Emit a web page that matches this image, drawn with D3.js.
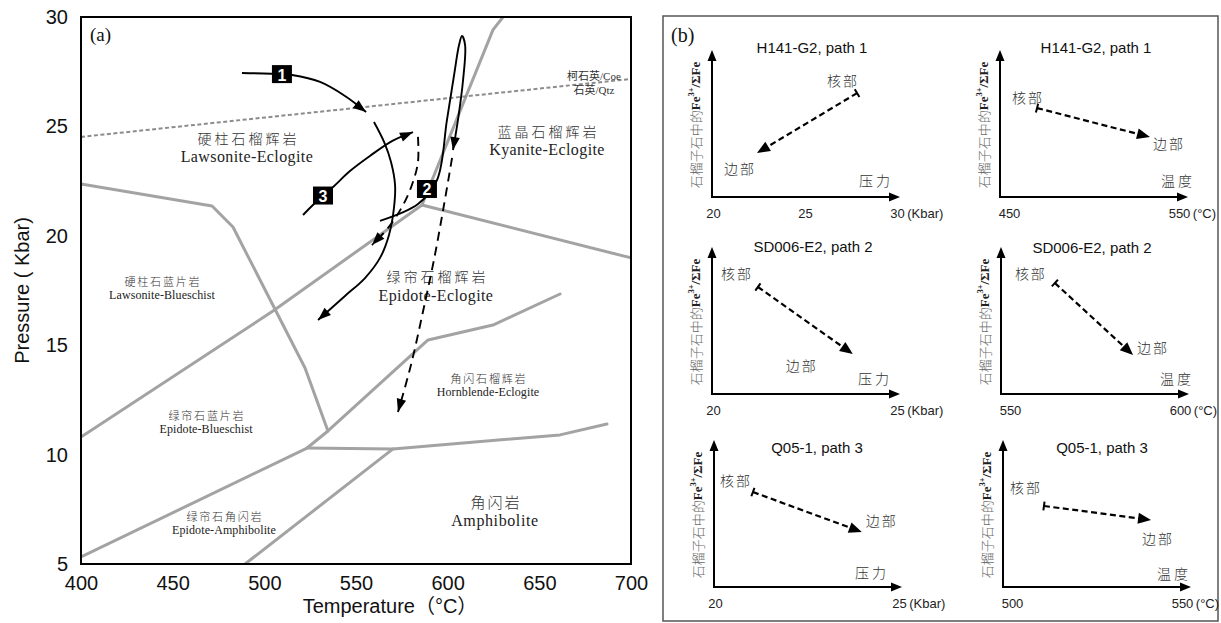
<!DOCTYPE html>
<html>
<head>
<meta charset="utf-8">
<script src="https://cdn.jsdelivr.net/npm/d3@7"></script>
<style>
  body { margin: 0; background: #fff; }
  svg { display: block; }
</style>
</head>
<body>
<script>
// ================= data =================
// panel (a): P-T grid, temperature in °C, pressure in kbar
const tempTicks = [400, 450, 500, 550, 600, 650, 700];
const pressureTicks = [5, 10, 15, 20, 25, 30];

// metamorphic facies boundaries, [T, P]
const lineLawsoniteOut   = [[400, 22.37], [471.5, 21.36], [482.9, 20.40], [522.2, 13.96], [534.7, 11.08]];
const lineEpidoteUpper   = [[400, 10.80], [504.7, 16.56], [586.0, 21.41]];
const lineKyanite        = [[586.0, 21.41], [624.7, 29.41], [630.2, 30.0]];
const lineKyaniteEpidote = [[586.0, 21.41], [700, 18.99]];
const lineHornblendeTop  = [[400, 5.32], [523.3, 10.30], [534.7, 11.08], [589.3, 15.24], [624.7, 15.92], [661.3, 17.34]];
const lineAmphiboliteTop = [[523.3, 10.30], [570.2, 10.26], [661.3, 10.90], [686.9, 11.40]];
const lineEpAmphibolite  = [[489.5, 5.0], [570.2, 10.26]];
const lineCoesiteQuartz  = [[400, 24.52], [700, 27.17]];

// facies names, with the T-P point each name sits on
const faciesZh = ["硬柱石榴辉岩", "蓝晶石榴辉岩", "绿帘石榴辉岩", "硬柱石蓝片岩", "绿帘石蓝片岩", "绿帘石角闪岩", "角闪石榴辉岩", "角闪岩"];
const faciesEn = ["Lawsonite-Eclogite", "Kyanite-Eclogite", "Epidote-Eclogite", "Lawsonite-Blueschist", "Epidote-Blueschist", "Epidote-Amphibolite", "Hornblende-Eclogite", "Amphibolite"];
const faciesAt = [[490.5, 24.08], [654.2, 24.38], [593.6, 17.73], [444.2, 17.61], [468.2, 11.51], [478.0, 6.87], [622.0, 13.18], [625.8, 7.38]];
const coesiteLabel = ["柯石英/Coe", "石英/Qtz"];
const coesiteAt = [679.8, 26.98];

// P-T paths, [T, P]
const path1Prograde = [[487.8, 27.44], [509.6, 27.39], [515.1, 27.35], [530.4, 27.03], [544.0, 26.39], [555.5, 25.66]];
const path1Retro    = [[559.8, 25.20], [565.3, 24.29], [569.1, 23.37], [571.3, 22.32], [570.7, 21.27], [568.0, 20.04], [563.1, 18.99], [554.9, 18.07], [544.0, 17.25], [529.3, 16.15]];
const path2Loop     = [[563.1, 20.68], [583.8, 21.45], [594.2, 22.55], [599.6, 25.29], [603.5, 27.35], [606.2, 28.72], [607.8, 29.13], [609.5, 28.72], [608.4, 27.12], [605.6, 25.29], [602.9, 23.92]];
const path2Retro    = [[602.4, 23.56], [598.0, 21.41], [592.5, 18.89], [586.5, 16.52], [580.0, 14.10], [572.9, 11.95]];
const path3Prograde = [[521.1, 20.95], [526.5, 21.41], [537.5, 22.23], [546.7, 22.96], [557.6, 23.65], [569.6, 24.33], [581.1, 24.74]];
const path3Retro    = [[583.8, 24.52], [583.8, 23.37], [580.5, 22.32], [575.1, 21.32], [567.5, 20.36], [558.7, 19.58]];
const pathNumbers   = ["1", "2", "3"];
const pathNumberAt  = [[509.6, 27.39], [588.7, 22.14], [532.0, 21.84]];

// panel (b): garnet Fe3+/ΣFe trends from core to rim
const miniTitles = ["H141-G2, path 1", "H141-G2, path 1", "SD006-E2, path 2", "SD006-E2, path 2", "Q05-1, path 3", "Q05-1, path 3"];
const miniAxisNames = ["压力", "温度", "压力", "温度", "压力", "温度"];
const miniUnits = ["(Kbar)", "(°C)", "(Kbar)", "(°C)", "(Kbar)", "(°C)"];
const miniTicks = [[20, 25, 30], [450, 550], [20, 25], [550, 600], [20, 25], [500, 550]];
const miniCore = [[27.83, 0.707], [466.5, 0.605], [21.22, 0.728], [563.2, 0.755], [21.03, 0.646], [509.4, 0.551]];
const miniRim  = [[22.39, 0.299], [532.9, 0.408], [23.80, 0.272], [586.2, 0.265], [23.99, 0.374], [540.9, 0.456]];
const coreText = "核部";
const rimText = "边部";

// ================= layout & style =================
const W = 1221, H = 623;
const SANS = "'Liberation Sans', Arial, 'Noto Sans CJK SC', sans-serif";
const SERIF = "'Liberation Serif', 'Times New Roman', 'Noto Sans CJK SC', serif";
const CJK = "'Noto Sans CJK SC', sans-serif";
const GRID = "#a3a3a3";

const svg = d3.select("body").append("svg")
  .attr("width", W).attr("height", H)
  .attr("viewBox", `0 0 ${W} ${H}`);

function arrowHead(g, p0, p1, len, half) {
  const a = Math.atan2(p1[1] - p0[1], p1[0] - p0[0]);
  const c = Math.cos(a), s = Math.sin(a);
  const bx = p1[0] - len * c, by = p1[1] - len * s;
  const pts = [[p1[0], p1[1]], [bx + half * s, by - half * c], [bx - half * s, by + half * c]];
  g.append("path").attr("d", "M" + pts.join("L") + "Z").attr("fill", "#000");
}

// ---------- panel (a) ----------
const box = { left: 81, top: 17, right: 631, bottom: 564 };
const x = d3.scaleLinear().domain([400, 700]).range([box.left, box.right]);
const y = d3.scaleLinear().domain([5, 30]).range([box.bottom, box.top]);

svg.append("clipPath").attr("id", "plotClip")
  .append("rect").attr("x", box.left).attr("y", box.top)
  .attr("width", box.right - box.left).attr("height", box.bottom - box.top);

const gA = svg.append("g");
const gGrid = gA.append("g").attr("clip-path", "url(#plotClip)");

const straight = d3.line().x(d => x(d[0])).y(d => y(d[1]));
const smooth = d3.line().x(d => x(d[0])).y(d => y(d[1])).curve(d3.curveCatmullRom.alpha(0.5));

[lineLawsoniteOut, lineEpidoteUpper, lineKyanite, lineKyaniteEpidote,
 lineHornblendeTop, lineAmphiboliteTop, lineEpAmphibolite].forEach(l => {
  gGrid.append("path").attr("d", straight(l))
    .attr("fill", "none").attr("stroke", GRID).attr("stroke-width", 3)
    .attr("stroke-linejoin", "round").attr("stroke-linecap", "round");
});
gGrid.append("path").attr("d", straight(lineCoesiteQuartz))
  .attr("fill", "none").attr("stroke", "#8c8c8c").attr("stroke-width", 2)
  .attr("stroke-dasharray", "4,2.5");

// facies names
const faciesStyle = ["big", "big", "big", "small", "small", "small", "small", "amph"];
const styleDefs = {
  big:   { zhSize: 14, zhSpace: 3,   enSize: 16, enSpace: 0.4, zhDy: -9, enDy: 10 },
  small: { zhSize: 11, zhSpace: 1.8, enSize: 12, enSpace: 0.1, zhDy: -7, enDy: 7 },
  amph:  { zhSize: 15, zhSpace: 2,   enSize: 16, enSpace: 0.6, zhDy: -10, enDy: 9 }
};
faciesZh.forEach((zh, i) => {
  const st = styleDefs[faciesStyle[i]];
  const px = x(faciesAt[i][0]), py = y(faciesAt[i][1]);
  gA.append("text").text(zh)
    .attr("x", px + st.zhSpace / 2).attr("y", py + st.zhDy)
    .attr("text-anchor", "middle").attr("dominant-baseline", "central")
    .attr("font-family", CJK).attr("font-size", st.zhSize)
    .attr("letter-spacing", st.zhSpace).attr("fill", "#333").attr("font-weight", 300);
  gA.append("text").text(faciesEn[i])
    .attr("x", px).attr("y", py + st.enDy)
    .attr("text-anchor", "middle").attr("dominant-baseline", "central")
    .attr("font-family", SERIF).attr("font-size", st.enSize)
    .attr("letter-spacing", st.enSpace).attr("fill", "#222");
});
coesiteLabel.forEach((t, i) => {
  gA.append("text").text(t)
    .attr("x", x(coesiteAt[0])).attr("y", y(coesiteAt[1]) + (i === 0 ? -7 : 7))
    .attr("text-anchor", "middle").attr("dominant-baseline", "central")
    .attr("font-family", SERIF).attr("font-size", 11).attr("fill", "#333");
});

// P-T paths
const gPaths = gA.append("g");
function ptPath(pts, dashed, withArrow) {
  gPaths.append("path").attr("d", smooth(pts))
    .attr("fill", "none").attr("stroke", "#000").attr("stroke-width", 1.9)
    .attr("stroke-dasharray", dashed ? "9,6" : null);
  if (withArrow) {
    const n = pts.length;
    const p0 = [x(pts[n - 2][0]), y(pts[n - 2][1])];
    const p1 = [x(pts[n - 1][0]), y(pts[n - 1][1])];
    arrowHead(gPaths, p0, p1, 13, 4.8);
  }
}
ptPath(path1Prograde, false, true);
ptPath(path1Retro, false, true);
ptPath(path2Loop, false, true);
ptPath(path2Retro, true, true);
ptPath(path3Prograde, false, true);
ptPath(path3Retro, true, true);

pathNumbers.forEach((n, i) => {
  const px = x(pathNumberAt[i][0]), py = y(pathNumberAt[i][1]);
  gPaths.append("rect").attr("x", px - 10).attr("y", py - 9)
    .attr("width", 20).attr("height", 18).attr("fill", "#000");
  gPaths.append("text").text(n).attr("x", px).attr("y", py + 1)
    .attr("text-anchor", "middle").attr("dominant-baseline", "central")
    .attr("font-family", SANS).attr("font-weight", "bold")
    .attr("font-size", 16).attr("fill", "#fff");
});

// frame and axes
gA.append("rect").attr("x", box.left).attr("y", box.top)
  .attr("width", box.right - box.left).attr("height", box.bottom - box.top)
  .attr("fill", "none").attr("stroke", "#000").attr("stroke-width", 2);

const xAxis = gA.append("g").attr("transform", `translate(0,${box.bottom})`)
  .call(d3.axisBottom(x).tickValues(tempTicks).tickSize(0).tickPadding(12).tickFormat(d3.format("d")));
const yAxis = gA.append("g").attr("transform", `translate(${box.left},0)`)
  .call(d3.axisLeft(y).tickValues(pressureTicks).tickSize(0).tickPadding(13).tickFormat(d3.format("d")));
[xAxis, yAxis].forEach(a => {
  a.select(".domain").remove();
  a.selectAll("text").attr("font-family", SANS).attr("font-size", 20).attr("fill", "#111");
});

gA.append("text").text("Temperature（°C）")
  .attr("x", 390).attr("y", 606).attr("text-anchor", "middle").attr("dominant-baseline", "central")
  .attr("font-family", SANS).attr("font-size", 20).attr("fill", "#111");
gA.append("text").text("Pressure ( Kbar)")
  .attr("transform", `translate(22,${(box.top + box.bottom) / 2}) rotate(-90)`)
  .attr("text-anchor", "middle").attr("dominant-baseline", "central")
  .attr("font-family", SANS).attr("font-size", 20).attr("fill", "#111");
gA.append("text").text("(a)").attr("x", 90).attr("y", 41)
  .attr("font-family", SERIF).attr("font-size", 19).attr("fill", "#111");

// ---------- panel (b) ----------
const gB = svg.append("g");
gB.append("rect").attr("x", 663).attr("y", 16).attr("width", 555).attr("height", 605)
  .attr("fill", "none").attr("stroke", "#555").attr("stroke-width", 1.5);
gB.append("text").text("(b)").attr("x", 671).attr("y", 42)
  .attr("font-family", SERIF).attr("font-size", 20).attr("fill", "#111");

const miniOrigin = [[712, 197], [1000, 197], [712, 394], [1001, 394], [714, 587], [1003, 587]];
const miniTitleDx = [100, 96, 101, 91, 103, 99];
const miniTitleDy = [-150, -150, -148, -147, -140, -140];
const coreLabelOff = [[-14, -13], [-9, -11], [-21, -14], [-24, -10], [-17, -12], [-18, -19]];
const rimLabelOff = [[-17, 15], [19, 6], [-51, 11], [20, -8], [20, -12], [7, 18]];
const axisNameOff = [[164, -17], [178, -17], [163, -16], [176, -16], [158, -15], [171, -14]];
const AX_H = 147, AX_W = 188;

miniTitles.forEach((title, i) => {
  const [ox, oy] = miniOrigin[i];
  const isTemp = i % 2 === 1;
  const ticks = miniTicks[i];
  const span = isTemp ? [9, 179] : [1, 185];
  const mx = d3.scaleLinear().domain([ticks[0], ticks[ticks.length - 1]]).range([ox + span[0], ox + span[1]]);
  const my = d3.scaleLinear().domain([0, 1]).range([oy, oy - AX_H]);
  const g = gB.append("g");

  // axes with arrow tips
  g.append("line").attr("x1", ox).attr("y1", oy + 1).attr("x2", ox).attr("y2", oy - AX_H + 8)
    .attr("stroke", "#000").attr("stroke-width", 2);
  g.append("line").attr("x1", ox - 1).attr("y1", oy).attr("x2", ox + AX_W - 8).attr("y2", oy)
    .attr("stroke", "#000").attr("stroke-width", 2);
  arrowHead(g, [ox, oy], [ox, oy - AX_H], 11, 4.5);
  arrowHead(g, [ox, oy], [ox + AX_W, oy], 11, 4.5);

  // tick labels
  const ax = g.append("g").attr("transform", `translate(0,${oy})`)
    .call(d3.axisBottom(mx).tickValues(ticks).tickSize(0).tickPadding(12).tickFormat(d3.format("d")));
  ax.select(".domain").remove();
  ax.selectAll("text").attr("font-family", SANS).attr("font-size", 13).attr("fill", "#222");
  const lastLabel = ax.selectAll("text").nodes().pop();
  const lastW = lastLabel.getComputedTextLength();
  g.append("text").text(miniUnits[i])
    .attr("x", mx(ticks[ticks.length - 1]) + lastW / 2 + 3).attr("y", oy + 12).attr("dy", "0.71em")
    .attr("font-family", SANS).attr("font-size", 13).attr("fill", "#222");

  // title
  g.append("text").text(title)
    .attr("x", ox + miniTitleDx[i]).attr("y", oy + miniTitleDy[i])
    .attr("text-anchor", "middle").attr("dominant-baseline", "central")
    .attr("font-family", SANS).attr("font-size", 15).attr("fill", "#111");

  // y-axis name
  const yl = g.append("text")
    .attr("transform", `translate(${ox - 17},${oy - 72}) rotate(-90)`)
    .attr("text-anchor", "middle").attr("dominant-baseline", "central");
  yl.append("tspan").text("石榴子石中的")
    .attr("font-family", CJK).attr("font-size", 13).attr("fill", "#6a6a6a").attr("font-weight", 300);
  yl.append("tspan").text("Fe")
    .attr("font-family", SERIF).attr("font-size", 13).attr("font-weight", "bold").attr("fill", "#222");
  yl.append("tspan").text("3+").attr("dy", -4)
    .attr("font-family", SERIF).attr("font-size", 8.5).attr("font-weight", "bold").attr("fill", "#222");
  yl.append("tspan").text("/ΣFe").attr("dy", 4)
    .attr("font-family", SERIF).attr("font-size", 13).attr("font-weight", "bold").attr("fill", "#222");

  // core -> rim trend
  const c = [mx(miniCore[i][0]), my(miniCore[i][1])];
  const r = [mx(miniRim[i][0]), my(miniRim[i][1])];
  const a = Math.atan2(r[1] - c[1], r[0] - c[0]);
  const headLen = 13;
  g.append("line").attr("x1", c[0]).attr("y1", c[1])
    .attr("x2", r[0] - (headLen - 2) * Math.cos(a)).attr("y2", r[1] - (headLen - 2) * Math.sin(a))
    .attr("stroke", "#000").attr("stroke-width", 2.2).attr("stroke-dasharray", "6,3.5");
  arrowHead(g, c, r, headLen, 5.5);
  const tb = 4.5;
  g.append("line")
    .attr("x1", c[0] + tb * Math.sin(a)).attr("y1", c[1] - tb * Math.cos(a))
    .attr("x2", c[0] - tb * Math.sin(a)).attr("y2", c[1] + tb * Math.cos(a))
    .attr("stroke", "#000").attr("stroke-width", 2);

  // text marks
  const lab = (t, px, py, sp) => g.append("text").text(t)
    .attr("x", px).attr("y", py).attr("text-anchor", "middle").attr("dominant-baseline", "central")
    .attr("font-family", CJK).attr("font-size", 14).attr("letter-spacing", sp)
    .attr("fill", "#333").attr("font-weight", 300);
  lab(coreText, c[0] + coreLabelOff[i][0], c[1] + coreLabelOff[i][1], 2);
  lab(rimText, r[0] + rimLabelOff[i][0], r[1] + rimLabelOff[i][1], 2);
  lab(miniAxisNames[i], ox + axisNameOff[i][0], oy + axisNameOff[i][1], 3);
});
</script>
</body>
</html>
